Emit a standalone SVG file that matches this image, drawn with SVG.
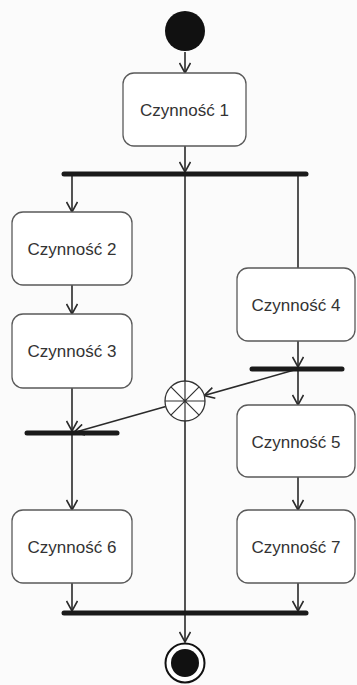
<svg xmlns="http://www.w3.org/2000/svg" width="357" height="685" viewBox="0 0 357 685">
<style>
.box{fill:#fff;stroke:#5a5a5a;stroke-width:1.3}
.lbl{font-family:"Liberation Sans",Arial,sans-serif;font-size:17px;fill:#333;text-anchor:middle}
.ln{stroke:#2a2a2a;stroke-width:1.6;fill:none}
.bar{stroke:#1a1a1a;stroke-width:5;stroke-linecap:round}
</style>
<defs>
<marker id="arr" viewBox="0 0 12 12" refX="11" refY="6" markerWidth="12" markerHeight="12" markerUnits="userSpaceOnUse" orient="auto">
<path d="M1,0.5 L11,6 L1,11.5" fill="none" stroke="#2a2a2a" stroke-width="1.6"/>
</marker>
</defs>
<rect width="357" height="685" fill="#fbfbfb"/>
<g id="connectors">
<line class="ln" x1="185" y1="52" x2="185" y2="73" marker-end="url(#arr)"/>
<line class="ln" x1="185" y1="146" x2="185" y2="172" marker-end="url(#arr)"/>
<line class="ln" x1="72" y1="174" x2="72" y2="212" marker-end="url(#arr)"/>
<line class="ln" x1="298" y1="174" x2="298" y2="268"/>
<line class="ln" x1="72" y1="285" x2="72" y2="314" marker-end="url(#arr)"/>
<line class="ln" x1="298" y1="341" x2="298" y2="367" marker-end="url(#arr)"/>
<line class="ln" x1="298" y1="369" x2="298" y2="405" marker-end="url(#arr)"/>
<line class="ln" x1="296" y1="369.6" x2="204.2" y2="395.6" marker-end="url(#arr)"/>
<line class="ln" x1="165.8" y1="406.4" x2="74" y2="432.4" marker-end="url(#arr)"/>
<line class="ln" x1="72" y1="388" x2="72" y2="431" marker-end="url(#arr)"/>
<line class="ln" x1="72" y1="433" x2="72" y2="510" marker-end="url(#arr)"/>
<line class="ln" x1="298" y1="477" x2="298" y2="510" marker-end="url(#arr)"/>
<line class="ln" x1="72" y1="583" x2="72" y2="611" marker-end="url(#arr)"/>
<line class="ln" x1="298" y1="583" x2="298" y2="611" marker-end="url(#arr)"/>
<line class="ln" x1="185" y1="174" x2="185" y2="381"/>
<line class="ln" x1="185" y1="421" x2="185" y2="642" marker-end="url(#arr)"/>
</g>
<g id="start"><circle cx="185" cy="31" r="20" fill="#111"/></g>
<g id="n1"><rect class="box" x="123" y="73" width="123" height="73" rx="11"/><text class="lbl" x="184.5" y="115.5">Czynność 1</text></g>
<g id="fork1"><line class="bar" x1="64" y1="174" x2="306" y2="174"/></g>
<g id="n2"><rect class="box" x="12" y="212" width="120" height="73" rx="11"/><text class="lbl" x="72" y="254.5">Czynność 2</text></g>
<g id="n3"><rect class="box" x="12" y="314" width="120" height="74" rx="11"/><text class="lbl" x="72" y="357">Czynność 3</text></g>
<g id="n4"><rect class="box" x="237" y="268" width="118" height="73" rx="11"/><text class="lbl" x="296" y="310.5">Czynność 4</text></g>
<g id="fork2"><line class="bar" x1="252" y1="369" x2="342" y2="369"/></g>
<g id="merge"><circle cx="185" cy="401" r="20" fill="#fff" stroke="#333" stroke-width="1.3"/>
<path d="M165,401 H205 M185,381 V421 M170.9,386.9 L199.1,415.1 M199.1,386.9 L170.9,415.1" stroke="#333" stroke-width="1.2"/></g>
<g id="join1"><line class="bar" x1="27" y1="433" x2="117" y2="433"/></g>
<g id="n5"><rect class="box" x="237" y="405" width="118" height="72" rx="11"/><text class="lbl" x="296" y="447.5">Czynność 5</text></g>
<g id="n6"><rect class="box" x="12" y="510" width="120" height="73" rx="11"/><text class="lbl" x="72" y="552.5">Czynność 6</text></g>
<g id="n7"><rect class="box" x="237" y="510" width="118" height="73" rx="11"/><text class="lbl" x="296" y="552.5">Czynność 7</text></g>
<g id="join2"><line class="bar" x1="64" y1="613" x2="306" y2="613"/></g>
<g id="end"><circle cx="185" cy="663" r="19.5" fill="#fff" stroke="#111" stroke-width="2"/><circle cx="185" cy="663" r="14" fill="#111"/></g>
</svg>
